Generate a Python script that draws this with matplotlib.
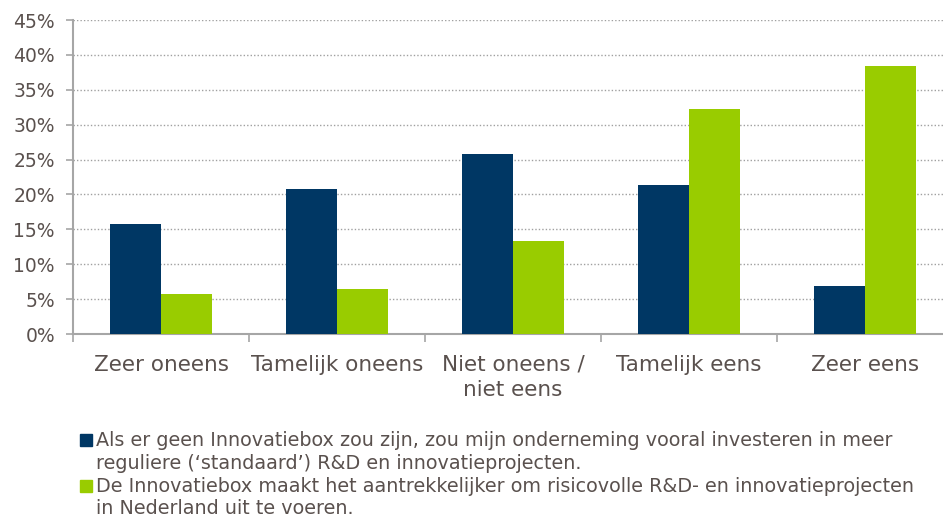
import matplotlib.pyplot as plt
import numpy as np
from matplotlib.patches import Rectangle

# categories and values (percent)
categories = ["Zeer oneens", "Tamelijk oneens", "Niet oneens /\nniet eens", "Tamelijk eens", "Zeer eens"]
geen_box = [15.8, 20.8, 25.8, 21.3, 6.9]
aantrekkelijker = [5.7, 6.4, 13.3, 32.2, 38.4]
y_ticks = [0, 5, 10, 15, 20, 25, 30, 35, 40, 45]
legend_labels = [
    "Als er geen Innovatiebox zou zijn, zou mijn onderneming vooral investeren in meer\nreguliere (\u2018standaard\u2019) R&D en innovatieprojecten.",
    "De Innovatiebox maakt het aantrekkelijker om risicovolle R&D- en innovatieprojecten\nin Nederland uit te voeren.",
]

blue = "#003764"
green = "#99CC00"
text_col = "#5a514e"
axis_col = "#a6a6a6"

plt.rcParams['font.family'] = ['DejaVu Sans']

fig = plt.figure(figsize=(9.43, 5.17), dpi=100)
W, H = 943, 517
# plot area runs a little past the right edge, like the original crop
ax = fig.add_axes([73 / W, (H - 334) / H, 880 / W, 314 / H])

x = np.arange(len(categories))
bw = 0.29
ax.bar(x - bw / 2, geen_box, bw, color=blue, zorder=3)
ax.bar(x + bw / 2, aantrekkelijker, bw, color=green, zorder=3)

ax.set_xlim(-0.5, len(categories) - 0.5)
ax.set_ylim(0, 45)
ax.set_yticks(y_ticks)
ax.set_yticklabels([f"{v}%" for v in y_ticks])
ax.yaxis.grid(True, linestyle=(0, (1, 1.5)), color="#a0a0a0", linewidth=1, zorder=0)

# ticks at boundaries, labels at centers
ax.set_xticks(np.arange(-0.5, len(categories) + 0.5, 1.0))
ax.set_xticklabels([])
ax.set_xticks(x, minor=True)
ax.set_xticklabels(categories, minor=True, fontsize=15.5, color=text_col, linespacing=1.35)
ax.tick_params(axis="x", which="minor", length=0, pad=15)
ax.tick_params(axis="x", which="major", length=6, color=axis_col, width=1.2)
ax.tick_params(axis="y", length=5, color=axis_col, width=1.2, labelsize=13.5, labelcolor=text_col, pad=8)

for s in ["top", "right"]:
    ax.spines[s].set_visible(False)
for s in ["left", "bottom"]:
    ax.spines[s].set_color(axis_col)
    ax.spines[s].set_linewidth(1.5)

# legend below, drawn by hand so the square sits on the first line
baselines = [[446, 469], [492, 514]]
for lbl, col, bl in zip(legend_labels, [blue, green], baselines):
    fig.patches.append(Rectangle((80 / W, (H - bl[0]) / H), 12 / W, 12 / H,
                                 transform=fig.transFigure, color=col))
    for line, yy in zip(lbl.split("\n"), bl):
        fig.text(96 / W, (H - yy) / H, line, fontsize=13.8, color=text_col,
                 va="baseline", ha="left")

fig.savefig("out.png", dpi=100)
